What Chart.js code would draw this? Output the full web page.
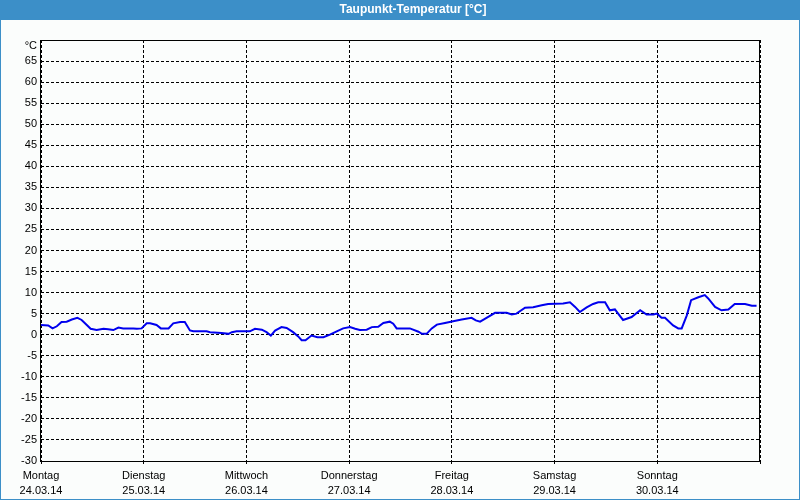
<!DOCTYPE html>
<html>
<head>
<meta charset="utf-8">
<script src="https://cdn.jsdelivr.net/npm/chart.js@4/dist/chart.umd.min.js"></script>
<style>
  html, body { margin: 0; padding: 0; background: #fbfdfc; }
  #wrap { width: 800px; height: 500px; position: relative; }
</style>
</head>
<body>
<div id="wrap"><canvas id="chart-dewpoint" width="800" height="500"></canvas></div>
<script>
// Taupunkt-Temperatur, Woche 24.03.14 - 30.03.14 (Stunden ab Montag 00:00)
const DAY_NAMES = ['Montag', 'Dienstag', 'Mittwoch', 'Donnerstag', 'Freitag', 'Samstag', 'Sonntag'];
const DAY_DATES = ['24.03.14', '25.03.14', '26.03.14', '27.03.14', '28.03.14', '29.03.14', '30.03.14'];
const HOURS = [
  0, 1.7, 2.7, 3.7, 4.8, 6.0, 7.2, 8.5, 9.5, 10.7, 11.6, 13.0, 14.6, 15.7, 16.9, 18.1, 19.2, 21.6, 22.4, 23.5,
  24.7, 25.5, 27.0, 28.0, 29.8, 30.9, 32.5, 33.6, 34.8, 35.6, 38.7, 39.5, 42.2, 43.8, 44.6, 45.7,
  48.8, 50.0, 51.6, 52.7, 53.7, 54.7, 56.2, 57.4, 58.9, 60.1, 60.9, 61.8, 63.2, 64.6, 66.0, 67.5, 69.1, 70.6,
  72.2, 73.4, 74.5, 76.1, 77.3, 78.8, 80.0, 81.5, 82.3, 83.1, 86.2, 88.2, 89.0, 90.1, 91.3, 92.5, 94.4,
  96.3, 98.3, 100.6, 101.6, 102.6, 104.1, 106.1, 108.8, 110.0, 111.1, 113.1, 115.0, 117.0, 118.5,
  122.0, 123.6, 124.8, 125.9, 127.5, 129.0, 130.2, 131.8, 132.9, 134.1, 135.3, 136.0, 138.0, 140.0, 141.5,
  143.1, 143.9, 145.0, 145.8, 147.7, 148.9, 149.7, 150.9, 151.9, 153.6, 155.1, 155.9, 157.5, 159.0, 160.6,
  162.1, 164.5, 166.1, 167.2
];
const DEWPOINT = [
  2.3, 2.2, 1.5, 2.0, 3.0, 3.1, 3.6, 4.0, 3.5, 2.3, 1.4, 1.1, 1.4, 1.3, 1.1, 1.7, 1.5, 1.5, 1.4, 1.5,
  2.7, 2.7, 2.3, 1.5, 1.5, 2.7, 3.0, 3.0, 1.0, 0.8, 0.8, 0.6, 0.4, 0.2, 0.6, 0.8,
  0.8, 1.4, 1.2, 0.6, -0.2, 1.0, 1.8, 1.6, 0.6, -0.4, -1.3, -1.3, -0.2, -0.6, -0.6, 0.0, 0.8, 1.5,
  1.8, 1.4, 1.1, 1.2, 1.8, 1.9, 2.8, 3.1, 2.6, 1.5, 1.5, 0.7, 0.2, 0.2, 1.5, 2.4, 2.8,
  3.2, 3.6, 4.0, 3.4, 3.1, 4.0, 5.2, 5.2, 4.8, 5.0, 6.4, 6.5, 7.0, 7.3,
  7.4, 7.7, 6.6, 5.4, 6.5, 7.3, 7.7, 7.7, 5.8, 6.0, 4.4, 3.5, 4.2, 5.8, 4.8,
  4.8, 5.0, 4.0, 4.0, 2.2, 1.5, 1.5, 4.6, 8.2, 8.9, 9.4, 8.6, 6.6, 5.8, 6.0,
  7.3, 7.3, 6.9, 6.9
];
const Y_MIN = -30, Y_MAX = 70, Y_STEP = 5;

const FONT = { family: "'Liberation Sans', Arial, sans-serif", size: 11 };
const FRAME_BLUE = '#3c8fc8';

// Titelleiste, Rahmen und Einheit
const framePlugin = {
  id: 'frame',
  beforeDraw(chart) {
    const c = chart.ctx;
    c.save();
    c.fillStyle = '#fbfdfc';
    c.fillRect(0, 0, chart.width, chart.height);
    c.fillStyle = FRAME_BLUE;
    c.fillRect(0, 0, chart.width, 20);
    c.strokeStyle = FRAME_BLUE;
    c.lineWidth = 1;
    c.strokeRect(0.5, 0.5, chart.width - 1, chart.height - 1);
    c.fillStyle = '#ffffff';
    c.font = "bold 12px 'Liberation Sans', Arial, sans-serif";
    c.textAlign = 'center';
    c.textBaseline = 'middle';
    c.fillText('Taupunkt-Temperatur [°C]', 413, 10);
    c.restore();
  },
  afterDraw(chart) {
    const { left, top, right, bottom } = chart.chartArea;
    const c = chart.ctx;
    c.save();
    c.strokeStyle = '#000000';
    c.lineWidth = 1;
    c.strokeRect(Math.round(left) - 0.5, Math.round(top) + 0.5, Math.round(right - left), Math.round(bottom - top));
    c.fillStyle = '#000000';
    c.font = "11px 'Liberation Sans', Arial, sans-serif";
    c.textAlign = 'right';
    c.textBaseline = 'middle';
    c.fillText('°C', left - 4, top + 6);
    c.restore();
  }
};

new Chart(document.getElementById('chart-dewpoint'), {
  type: 'line',
  data: {
    datasets: [{
      label: 'Taupunkt',
      data: HOURS.map((h, i) => ({ x: h, y: DEWPOINT[i] })),
      borderColor: '#0000ee',
      borderWidth: 2,
      pointRadius: 0,
      tension: 0,
      fill: false
    }]
  },
  options: {
    responsive: false,
    animation: false,
    events: [],
    layout: { padding: { left: 0, top: 40, right: 40, bottom: 0 } },
    plugins: { legend: { display: false }, tooltip: { enabled: false }, title: { display: false } },
    scales: {
      x: {
        type: 'linear',
        min: 0, max: 168,
        afterFit: s => { s.height = 39; },
        ticks: {
          stepSize: 24, autoSkip: false, maxRotation: 0, padding: 4,
          color: '#000', font: { ...FONT, lineHeight: '15px' },
          callback: v => { const d = v / 24; return d < DAY_NAMES.length ? [DAY_NAMES[d], DAY_DATES[d]] : ''; }
        },
        grid: { color: '#000', tickColor: '#000', tickLength: 3, tickBorderDash: [3, 2] },
        border: { display: false, dash: [3, 2] }
      },
      y: {
        min: Y_MIN, max: Y_MAX,
        afterFit: s => { s.width = 41; },
        ticks: {
          stepSize: Y_STEP, padding: 4, color: '#000', font: FONT,
          callback: v => v === Y_MAX ? '' : v
        },
        grid: { color: '#000', drawTicks: false },
        border: { display: false, dash: [3, 2] }
      }
    }
  },
  plugins: [framePlugin]
});
</script>
</body>
</html>
